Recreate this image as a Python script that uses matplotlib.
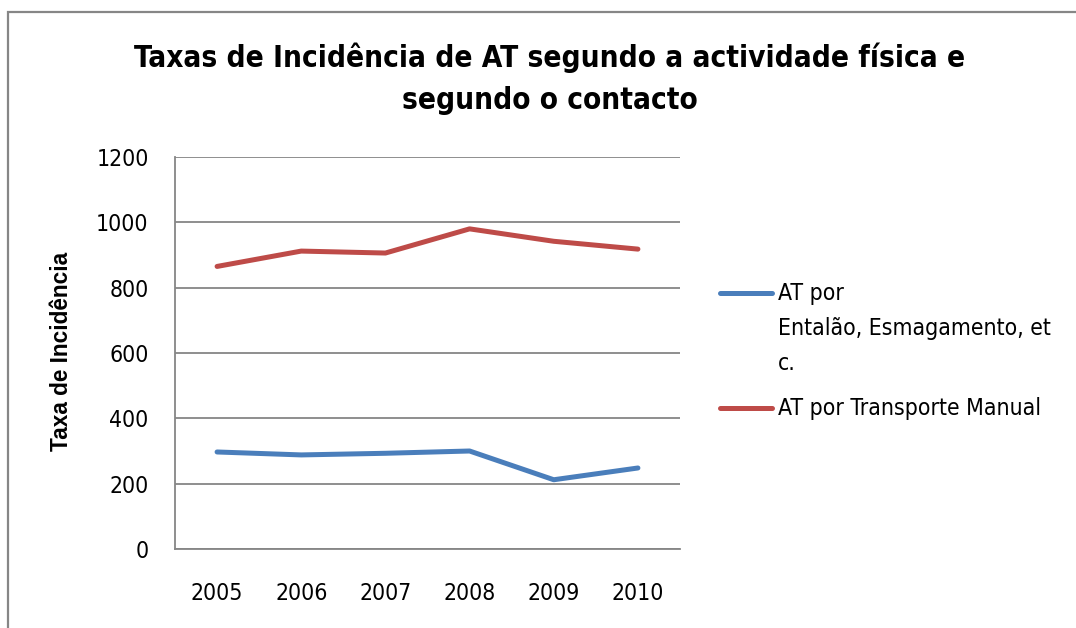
import os
import matplotlib
matplotlib.use("Agg")
import matplotlib.pyplot as plt
from matplotlib import font_manager
from matplotlib.font_manager import FontProperties
from matplotlib.lines import Line2D
from matplotlib.patches import Rectangle

years = ["2005", "2006", "2007", "2008", "2009", "2010"]
entalao = [297, 288, 293, 300, 212, 248]
transporte = [865, 912, 906, 980, 942, 918]
series_labels = ["AT por\nEntalão, Esmagamento, et\nc.", "AT por Transporte Manual"]
y_ticks = [0, 200, 400, 600, 800, 1000, 1200]

BLUE = "#4A7EBB"
RED = "#BE4B48"
GRID = "#868686"


def narrow_font(size, bold=False):
    """Narrow sans face if one is installed, else Lato."""
    files = [f.fname for f in font_manager.fontManager.ttflist]
    for key in ("LiberationSansNarrow", "DejaVuSansCondensed"):
        for path in sorted(files):
            base = os.path.basename(path).replace("-", "")
            if not base.startswith(key):
                continue
            rest = base[len(key):].lower()
            if bold and rest.startswith("bold.") or not bold and rest.startswith(("regular.", ".")):
                return FontProperties(fname=path, size=size)
    return FontProperties(family="Lato", size=size, weight="bold" if bold else "normal")


tick_fp = narrow_font(16.5)
title_fp = narrow_font(21.3, bold=True)

fig = plt.figure(figsize=(10.76, 6.28), dpi=100)
ax = fig.add_axes([175 / 1076, 1 - 549 / 628, 505 / 1076, 392 / 628])

x = range(len(years))
ax.plot(x, entalao, color=BLUE, lw=3.6, solid_capstyle="round", solid_joinstyle="round")
ax.plot(x, transporte, color=RED, lw=3.6, solid_capstyle="round", solid_joinstyle="round")

ax.set_xlim(-0.5, len(years) - 0.5)
ax.set_ylim(0, 1200)
ax.set_yticks(y_ticks)
ax.set_xticks(list(x))
ax.set_xticklabels(years, fontproperties=tick_fp)
ax.set_yticklabels([str(v) for v in y_ticks], fontproperties=tick_fp)
ax.tick_params(length=0)
ax.tick_params(axis="x", pad=24)
ax.tick_params(axis="y", pad=19)
ax.yaxis.grid(True, color=GRID, lw=1.3)
ax.set_axisbelow(True)
for side in ("top", "right"):
    ax.spines[side].set_visible(False)
for side in ("left", "bottom"):
    ax.spines[side].set_color(GRID)
    ax.spines[side].set_linewidth(1.3)

fig.text(62 / 1076, 1 - 351 / 628, "Taxa de Incidência", family="Liberation Sans",
         fontsize=16.3, fontweight="bold", rotation=90, ha="center", va="center")

fig.text(550 / 1076, 1 - 79 / 628,
         "Taxas de Incidência de AT segundo a actividade física e\nsegundo o contacto",
         ha="center", va="center", fontproperties=title_fp, linespacing=1.55)

# legend drawn by hand so the handle sits on the first text line
for color, label, ypix in ((BLUE, series_labels[0], 293), (RED, series_labels[1], 408)):
    yf = 1 - ypix / 628
    fig.add_artist(Line2D([720 / 1076, 772 / 1076], [yf, yf], color=color, lw=3.6,
                          solid_capstyle="round", transform=fig.transFigure))
    fig.text(778 / 1076, yf + 11 / 628, label, ha="left", va="top",
             fontproperties=tick_fp, linespacing=1.66)

# chart frame
fig.add_artist(Rectangle((8 / 1076, -0.1), 1.2, 1 - 12 / 628 + 0.1, fill=False,
                         edgecolor=GRID, lw=1.6, transform=fig.transFigure))

fig.savefig("out.png", dpi=100)
